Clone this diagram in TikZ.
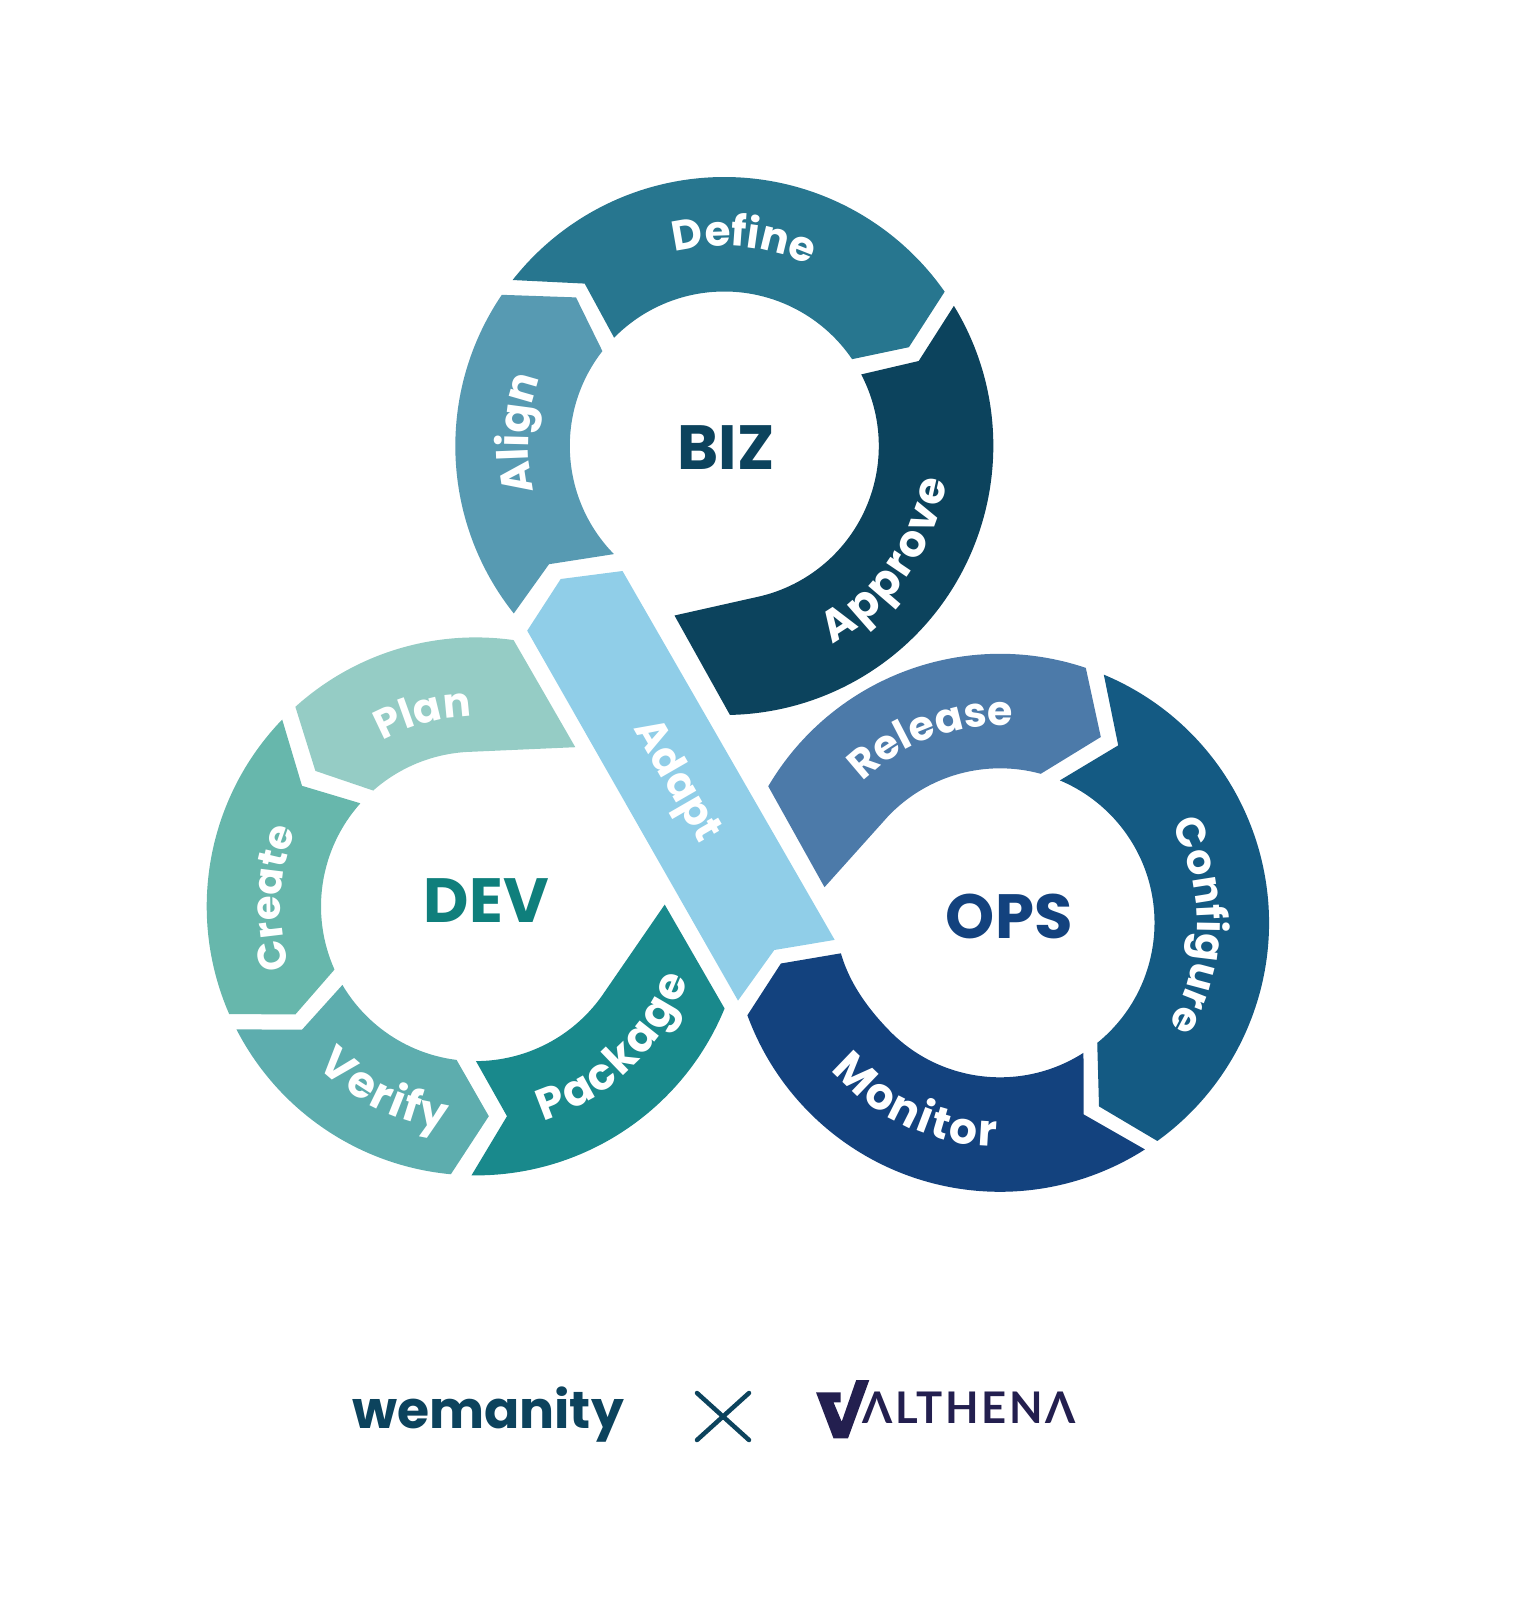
\documentclass[tikz,border=0pt]{standalone}
\usepackage{fontspec}
\usetikzlibrary{decorations.text}
\setmainfont{Poppins}
\newfontfamily\lab{Poppins}
\newfontfamily\logofont[LetterSpace=6]{Lato Bold}
\definecolor{cdefine}{HTML}{27768F}
\definecolor{calign}{HTML}{579AB2}
\definecolor{capprove}{HTML}{0C435D}
\definecolor{cadapt}{HTML}{90CEE8}
\definecolor{cplan}{HTML}{95CCC5}
\definecolor{ccreate}{HTML}{67B7AC}
\definecolor{cverify}{HTML}{5DADAE}
\definecolor{cpackage}{HTML}{19898C}
\definecolor{crelease}{HTML}{4C7AA9}
\definecolor{cconfigure}{HTML}{145A83}
\definecolor{cmonitor}{HTML}{13427E}
\definecolor{cdevtxt}{HTML}{0F7F7C}
\definecolor{cnavy}{HTML}{231F4F}
% #1 centre, #2 radius, #3 start angle, #4 end angle: go to the arc start, then follow it
\newcommand\ringarc[4]{([shift={(#3:#2)}]#1) arc[start angle=#3,end angle=#4,radius=#2]}
% size cx cy r a b text gap; the arc runs past both ends so no letter is dropped
\newcommand\ringlabel[8]{%
  \pgfmathsetmacro\aS{#5+20*sign(#5-#6)}%
  \pgfmathsetmacro\aE{#6-20*sign(#5-#6)}%
  \path[decorate,decoration={text effects along path,text={#7},text align=center,
    text effects/.cd,text along path,
    characters={text=white,font=\lab\bfseries\fontsize{#1}{#1}\selectfont,inner sep=0pt},
    character widths={font=\lab\bfseries\fontsize{#1}{#1}\selectfont,inner sep=0pt,inner xsep=#8}}]
    (#2,-#3) ++(\aS:#4) arc[start angle=\aS,end angle=\aE,radius=#4];}
\tikzset{
  hub/.style={font=\bfseries\fontsize{62.5}{62.5}\selectfont,inner sep=0pt},
}
\begin{document}
\begin{tikzpicture}[x=1pt,y=1pt]
\useasboundingbox (0,0) rectangle (1528,-1600);
\coordinate (B) at (724.3,-446);
\coordinate (D) at (475.7,-906.4);
\coordinate (O) at (1000,-922.8);
% BIZ
\fill[cdefine] \ringarc{B}{269}{141.9}{35} -- (908.9,-347.2) -- \ringarc{B}{154.5}{34.2}{135.5} -- (584.7,-283.6) -- cycle;
\fill[calign] \ringarc{B}{269}{145.8}{218.5} -- (549,-564.2) -- \ringarc{B}{154.5}{224.4}{142.1} -- (576,-297.4) -- cycle;
\fill[capprove] \ringarc{B}{269}{31.4}{-88.8} -- (674.5,-615.5) -- \ringarc{B}{154.5}{-78.1}{27.6} -- (918.7,-361) -- cycle;
% DEV
\fill[cplan] \ringarc{D}{269}{132.1}{81.9} -- (575.3,-747.2) -- \ringarc{D}{154.7}{93.5}{131.5} -- (315.4,-770.9) -- cycle;
\fill[ccreate] \ringarc{D}{269}{136}{203.6} -- (295.4,-1014.4) -- \ringarc{D}{154.7}{204.1}{138.2} -- (302,-785.8) -- cycle;
\fill[cverify] \ringarc{D}{269}{207.2}{264.7} -- (488.8,-1116.2) -- \ringarc{D}{154.7}{262.9}{210.5} -- (302,-1029.7) -- cycle;
\fill[cpackage] \ringarc{D}{154.7}{-89.9}{-35.3} -- (664.7,-904.6) -- \ringarc{D}{269}{-22.3}{-90.9} -- (507,-1116.2) -- cycle;
% OPS
\fill[crelease] \ringarc{O}{269}{149.5}{71.4} -- (1100.8,-737) -- \ringarc{O}{154.5}{74.7}{136.4} -- (824.5,-887.2) -- cycle;
\fill[cconfigure] \ringarc{O}{269}{67.3}{-54.2} -- (1099,-1106.4) -- \ringarc{O}{154.5}{-51}{67.2} -- (1118.2,-745.4) -- cycle;
\fill[cmonitor] \ringarc{O}{269}{200.1}{302.6} -- (1083.7,-1114.4) -- \ringarc{O}{154.5}{302.7}{225}
  .. controls (870,-1011) and (850,-985) .. (840.9,-953.3) -- (780.9,-963.5) -- cycle;
% Adapt band
\fill[cadapt] (560.7,-579) -- (622.5,-571) -- (834.7,-939.9) -- (774.3,-950) -- (738,-1000.6) -- (527.2,-630.7) -- cycle;
% ring labels
\ringlabel{42}{724.3}{446}{200}{104}{65}{Define}{0pt}
\ringlabel{43}{724.3}{446}{196}{192.7}{160.4}{Align}{0pt}
\ringlabel{44}{724.3}{446}{225}{-60}{-10.4}{Approve}{1pt}
\ringlabel{41}{475.7}{906.4}{190}{118}{92.6}{Plan}{0pt}
\ringlabel{40}{475.7}{906.4}{195}{199.5}{155.8}{Create}{0pt}
\ringlabel{44}{475.7}{906.4}{225}{228.4}{259}{Verify}{1pt}
\ringlabel{44}{475.7}{906.4}{225}{-69.5}{-22}{Package}{1pt}
\ringlabel{41}{1000}{922.8}{197}{133.5}{87}{Release}{0pt}
\ringlabel{41}{1000}{922.8}{197}{30.3}{-32}{Configure}{0pt}
\ringlabel{44}{1000}{922.8}{224}{221.4}{268.5}{Monitor}{1pt}
\node[rotate=-60,text=white,inner sep=0pt,font=\lab\bfseries\fontsize{42}{42}\selectfont] (adapt) at (675.3,-781.8) {Adapt};
% hubs
\node[hub,text=capprove] (biz) at (726,-448) {BIZ};
\node[hub,text=cdevtxt] (dev) at (486.3,-900.6) {DEV};
\node[hub,text=cmonitor] (ops) at (1009.2,-916.3) {OPS};
% logos
\node[anchor=base,text=capprove,inner sep=0pt,font=\bfseries\fontsize{52}{52}\selectfont] (wem) at (488,-1428) {wemanity};
\coordinate (xa) at (697,-1393);
\coordinate (xb) at (749,-1440);
\coordinate (xc) at (749,-1393);
\coordinate (xd) at (697,-1440);
\draw[capprove,line width=4.5pt,line cap=round] (xa) -- (xb) (xc) -- (xd);
\fill[cnavy] (816,-1392.3) -- (833.5,-1438.3) -- (848,-1438.3) -- (869.3,-1380) -- (856.2,-1380) -- (841.7,-1421.7) -- (833.5,-1402.3) -- (840.7,-1402.3) -- (840.7,-1392.3) -- cycle;
\node[anchor=base west,text=cnavy,inner sep=0pt,font=\logofont\fontsize{43.6}{43.6}\selectfont] (alth) at (862,-1423) {ΛLTHENΛ};
\end{tikzpicture}
\end{document}
